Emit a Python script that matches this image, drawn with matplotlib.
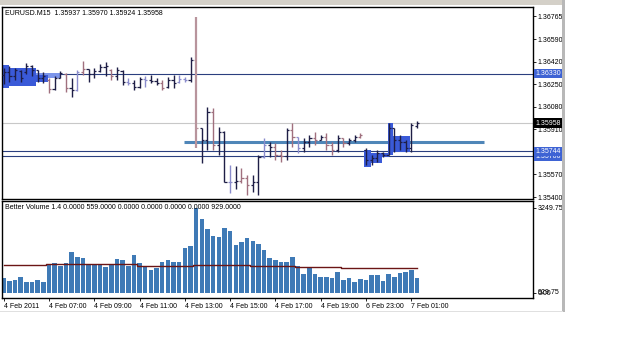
import matplotlib
matplotlib.use("Agg")
import matplotlib.pyplot as plt
from matplotlib.patches import Rectangle

plt.rcParams['font.family'] = ['Liberation Sans', 'DejaVu Sans']

# EURUSD M15, 4 Feb 2011 05:00 -> 7 Feb 01:15 (74 bars)
highs = [1.36373, 1.36389, 1.36373, 1.36358, 1.36411, 1.36396, 1.36358, 1.36343,
         1.36298, 1.36313, 1.36351, 1.36336, 1.36298, 1.36358, 1.36426, 1.36366,
         1.36373, 1.36404, 1.36419, 1.36366, 1.36381, 1.36358, 1.36298, 1.36283,
         1.36306, 1.36313, 1.36321, 1.36298, 1.36283, 1.36306, 1.36321, 1.36321,
         1.36306, 1.36456, 1.36757, 1.35922, 1.36080, 1.36072, 1.35929, 1.35899,
         1.35643, 1.35636, 1.35621, 1.35568, 1.35568, 1.35718, 1.35846, 1.35816,
         1.35809, 1.35756, 1.35922, 1.35959, 1.35854, 1.35846, 1.35869, 1.35892,
         1.35869, 1.35884, 1.35816, 1.35869, 1.35846, 1.35846, 1.35869, 1.35884,
         1.35771, 1.35718, 1.35756, 1.35741, 1.35959, 1.35922, 1.35869, 1.35831,
         1.35959, 1.35970]
lows = [1.36253, 1.36268, 1.36283, 1.36268, 1.36328, 1.36313, 1.36268, 1.36260,
        1.36185, 1.36208, 1.36298, 1.36193, 1.36155, 1.36200, 1.36321, 1.36268,
        1.36298, 1.36343, 1.36313, 1.36283, 1.36283, 1.36245, 1.36245, 1.36208,
        1.36223, 1.36230, 1.36260, 1.36245, 1.36208, 1.36223, 1.36223, 1.36260,
        1.36268, 1.36268, 1.35771, 1.35658, 1.35756, 1.35756, 1.35718, 1.35515,
        1.35432, 1.35462, 1.35507, 1.35417, 1.35440, 1.35417, 1.35696, 1.35703,
        1.35681, 1.35666, 1.35681, 1.35779, 1.35733, 1.35741, 1.35779, 1.35794,
        1.35831, 1.35756, 1.35718, 1.35741, 1.35779, 1.35794, 1.35816, 1.35846,
        1.35643, 1.35643, 1.35666, 1.35703, 1.35718, 1.35741, 1.35756, 1.35741,
        1.35741, 1.35924]
opens = [1.36321, 1.36343, 1.36313, 1.36351, 1.36343, 1.36389, 1.36358, 1.36298,
         1.36283, 1.36215, 1.36298, 1.36328, 1.36223, 1.36208, 1.36343, 1.36366,
         1.36328, 1.36351, 1.36381, 1.36358, 1.36313, 1.36351, 1.36268, 1.36260,
         1.36230, 1.36291, 1.36283, 1.36276, 1.36260, 1.36230, 1.36283, 1.36268,
         1.36291, 1.36283, 1.36434, 1.35922, 1.35831, 1.36042, 1.35794, 1.35892,
         1.35515, 1.35515, 1.35522, 1.35545, 1.35492, 1.35515, 1.35703, 1.35794,
         1.35779, 1.35718, 1.35711, 1.35907, 1.35854, 1.35771, 1.35816, 1.35846,
         1.35831, 1.35854, 1.35794, 1.35756, 1.35846, 1.35809, 1.35831, 1.35854,
         1.35756, 1.35681, 1.35696, 1.35733, 1.35718, 1.35922, 1.35831, 1.35816,
         1.35771, 1.35937]
closes = [1.36343, 1.36313, 1.36358, 1.36298, 1.36389, 1.36358, 1.36298, 1.36313,
          1.36215, 1.36298, 1.36336, 1.36223, 1.36208, 1.36343, 1.36366, 1.36328,
          1.36351, 1.36381, 1.36389, 1.36313, 1.36358, 1.36268, 1.36260, 1.36230,
          1.36291, 1.36283, 1.36276, 1.36260, 1.36223, 1.36283, 1.36260, 1.36291,
          1.36283, 1.36434, 1.35922, 1.35831, 1.36042, 1.35794, 1.35892, 1.35515,
          1.35515, 1.35522, 1.35545, 1.35492, 1.35515, 1.35703, 1.35794, 1.35779,
          1.35718, 1.35711, 1.35907, 1.35854, 1.35771, 1.35816, 1.35846, 1.35831,
          1.35854, 1.35794, 1.35756, 1.35846, 1.35809, 1.35831, 1.35854, 1.35869,
          1.35681, 1.35696, 1.35733, 1.35718, 1.35922, 1.35831, 1.35816, 1.35771,
          1.35944, 1.35958]
# n = navy, r = rose, l = lavender
bar_kinds = ("nnnnnnnn" "rnnrnlrn" "nnnrnnln" "nlnnrnnl" "lnrnnrnn"
             "lnrrnnln" "rrnrlnnr" "nrrnrnnr" "nnnnnnnn" "nn")

volumes = [548, 446, 484, 611, 420, 420, 497, 420, 1083, 1121, 1032, 1147, 1554,
           1363, 1325, 1108, 1108, 1057, 994, 1057, 1287, 1236, 1032, 1440, 1121,
           994, 854, 956, 1172, 1261, 1159, 1172, 1694, 1784, 3249, 2828, 2433,
           2153, 2128, 2472, 2344, 1822, 1936, 2102, 1987, 1873, 1618, 1325, 1261,
           1172, 1172, 1376, 1032, 713, 930, 713, 599, 586, 560, 790, 471, 560,
           420, 522, 484, 662, 662, 446, 700, 611, 751, 802, 879, 559]
vol_ma = [1057] * 8 + [1095] * 8 + [1083] * 8 + [1032] * 2 + [1019] * 8 + \
         [1057] * 10 + [1019] * 6 + [1032] * 2 + [1000] * 8 + [940] * 14

# horizontal levels
level_top = 1.36330
level_low1 = 1.35744
level_low2 = 1.35706
last_price = 1.35958
mid_level = 1.35812
mid_level_span = (31.8, 84.9)

# blue range boxes: (start bar, end bar, low, high, shade)
boxes = [
    (-0.12, 0.93, 1.36223, 1.36396, 'd'),
    (-0.12, 5.7, 1.36238, 1.36373, 'd'),
    (5.7, 10.1, 1.36298, 1.36336, 'l'),
    (5.7, 7.8, 1.36268, 1.36321, 'd'),
    (63.7, 64.8, 1.35628, 1.35756, 'd'),
    (64.8, 66.9, 1.35658, 1.35733, 'd'),
    (66.9, 68.0, 1.35703, 1.35733, 'd'),
    (67.8, 68.8, 1.35718, 1.35959, 'd'),
    (68.8, 71.8, 1.35741, 1.35861, 'd'),
]

price_ticks = [1.36765, 1.36590, 1.36420, 1.36250, 1.36080, 1.35910, 1.35570, 1.35400]
date_labels = ["4 Feb 2011", "4 Feb 07:00", "4 Feb 09:00", "4 Feb 11:00",
               "4 Feb 13:00", "4 Feb 15:00", "4 Feb 17:00", "4 Feb 19:00",
               "6 Feb 23:00", "7 Feb 01:00"]

W, H = 625, 339
colors = {'n': '#1e1e46', 'r': '#a0707e', 'l': '#8a8ccc'}


def rect(left, top, right, bottom):
    return [left / W, 1 - bottom / H, (right - left) / W, (bottom - top) / H]


fig = plt.figure(figsize=(W / 100, H / 100), dpi=100)
ax = fig.add_axes(rect(2, 7, 533, 198.5))
ax2 = fig.add_axes(rect(2, 201, 533, 298))

n = len(highs)
idx = list(range(n))

# price panel
ax.axhline(level_top, color='#2b3f7f', lw=0.8, zorder=1)
ax.axhline(level_low1, color='#2b3f7f', lw=0.8, zorder=1)
ax.axhline(level_low2, color='#2b3f7f', lw=0.8, zorder=1)
ax.axhline(last_price, color='#c8c8c8', lw=0.8, zorder=1)
ax.hlines(mid_level, *mid_level_span, color='#4f86b8', lw=2.2, zorder=2)

for x0, x1, lo, hi, shade in boxes:
    ax.add_patch(Rectangle((x0, lo), x1 - x0, hi - lo,
                           fc='#3a5ad8' if shade == 'd' else '#7c95ea',
                           ec='none', zorder=2))

for i in idx:
    c = colors[bar_kinds[i]]
    lw = 1.6 if i == 34 else 1.0
    if i == 34:
        c = '#b8949c'
    ax.vlines(i, lows[i], highs[i], color=c, lw=lw, zorder=3)
    ax.hlines(opens[i], i - 0.38, i, color=c, lw=0.9, zorder=3)
    ax.hlines(closes[i], i, i + 0.38, color=c, lw=0.9, zorder=3)

ax.set_xlim(-0.3, 93.5)
ax.set_ylim(1.35389, 1.36833)
ax.set_xticks([])
ax.yaxis.tick_right()
ax.set_yticks(price_ticks)
ax.set_yticklabels([f"{p:.5f}" for p in price_ticks])
ax.tick_params(axis='y', length=2, width=0.6, pad=1.5, labelsize=5)

for val, fc in [(level_top, '#3e63d4'), (last_price, '#000000'),
                (level_low2, '#3e63d4'), (level_low1, '#3e63d4')]:
    ax.text(1.004, val, f"{val:.5f}", transform=ax.get_yaxis_transform(),
            fontsize=5, color='white', va='center', ha='left', zorder=6,
            clip_on=False,
            bbox=dict(boxstyle='square,pad=0.15', fc=fc, ec='none'))

ax.text(0.006, 0.965, "EURUSD.M15  1.35937 1.35970 1.35924 1.35958",
        transform=ax.transAxes, fontsize=5, va='center', ha='left')

# volume panel
ax2.bar(idx, volumes, width=0.8, color='#3f7ab6', edgecolor='none', zorder=2)
ax2.plot(idx, vol_ma, color='#6b1515', lw=1.0, drawstyle='steps-mid', zorder=3)
ax2.set_xlim(-0.3, 93.5)
ax2.set_ylim(-203, 3506)
ax2.yaxis.tick_right()
ax2.set_yticks([3249.75, 0])
ax2.set_yticklabels(["3249.75", "0.00"])
ax2.tick_params(axis='y', length=2, width=0.6, pad=1.5, labelsize=5)
ax2.text(1.0085, 0, "929.75", transform=ax2.get_yaxis_transform(),
         fontsize=5, va='center', ha='left', clip_on=False)
ax2.set_xticks(range(0, n, 8))
ax2.set_xticklabels(date_labels)
for lab in ax2.get_xticklabels():
    lab.set_ha('left')
ax2.tick_params(axis='x', length=2, width=0.6, pad=1.5, labelsize=5)
ax2.text(0.006, 0.93,
         "Better Volume 1.4 0.0000 559.0000 0.0000 0.0000 0.0000 0.0000 929.0000",
         transform=ax2.transAxes, fontsize=5, va='center', ha='left')

for a in (ax, ax2):
    for s in a.spines.values():
        s.set_linewidth(1.0)
        s.set_color('black')

# window frame pieces
fig.patches.append(Rectangle((0, 1 - 5 / H), 563 / W, 5 / H,
                             transform=fig.transFigure, fc='#d4d0c8', ec='none'))
fig.patches.append(Rectangle((562 / W, 1 - 312 / H), 3 / W, 312 / H,
                             transform=fig.transFigure, fc='#b8b8b8', ec='none'))
fig.patches.append(Rectangle((0, 1 - 312 / H), 563 / W, 1.5 / H,
                             transform=fig.transFigure, fc='#e0e0e0', ec='none'))

fig.savefig("out.png", dpi=100)
